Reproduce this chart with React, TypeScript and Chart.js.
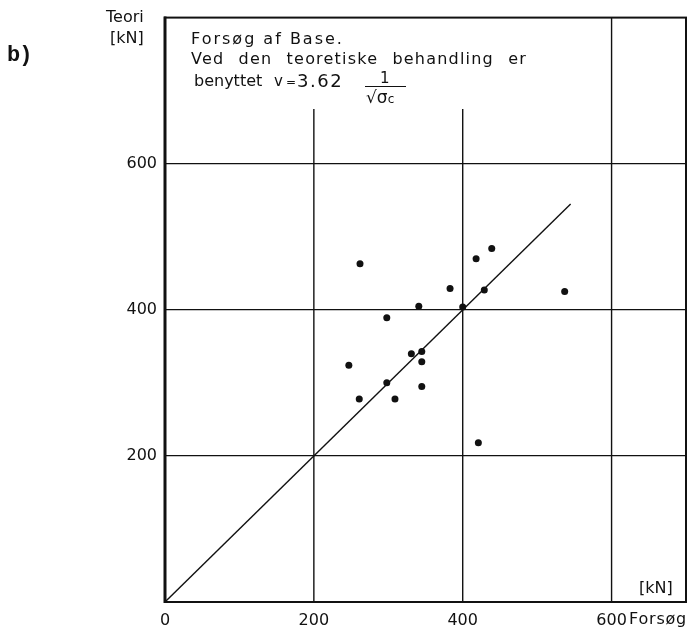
import React, { useEffect, useRef } from "react";
import { Chart, registerables } from "chart.js";

Chart.register(...registerables);

// ---- data ----
const forsoeg: number[] = [262, 418, 439, 383, 429, 537, 341, 400, 298, 331, 345, 345, 247, 298, 345, 261, 309, 421];
const teori: number[] = [463, 470, 484, 429, 427, 425, 405, 404, 389, 340, 343, 329, 324, 300, 295, 278, 278, 218];

const diagonalX: number[] = [0, 545];
const diagonalY: number[] = [0, 545];

const gridX: number[] = [200, 400, 600];
const gridTop: number[] = [675, 675, 800];

const xTicksShown: number[] = [0, 200, 400, 600];
const yTicksShown: number[] = [200, 400, 600];

const X_MAX = 700;
const Y_MAX = 800;

const DEJAVU = "'DejaVu Sans', sans-serif";
const MONO = "'Liberation Mono', monospace";

type LabelProps = {
  x: number;
  baseline: number;
  size: number;
  family?: string;
  ratio?: number;
  style?: React.CSSProperties;
  children: React.ReactNode;
};

function Label({ x, baseline, size, family = DEJAVU, ratio = 0.846, style, children }: LabelProps) {
  return (
    <div
      style={{
        position: "absolute",
        left: x,
        top: baseline - ratio * size,
        fontFamily: family,
        fontSize: size,
        lineHeight: `${size}px`,
        whiteSpace: "nowrap",
        color: "#111",
        ...style,
      }}
    >
      {children}
    </div>
  );
}

const framePlugin = {
  id: "frame",
  afterDraw(chart: any) {
    const { ctx, chartArea } = chart;
    const { left, right, top, bottom } = chartArea;
    ctx.save();
    ctx.strokeStyle = "#111";
    ctx.lineWidth = 2;
    ctx.strokeRect(left, top, right - left, bottom - top);
    ctx.lineWidth = 3;
    ctx.beginPath();
    ctx.moveTo(left, top - 1);
    ctx.lineTo(left, bottom + 1);
    ctx.stroke();
    ctx.restore();
  },
};

export default function App() {
  const canvasRef = useRef<HTMLCanvasElement | null>(null);

  useEffect(() => {
    if (!canvasRef.current) return;
    const points = forsoeg.map((x, i) => ({ x, y: teori[i] }));
    const lineStyle = {
      showLine: true,
      pointRadius: 0,
      borderColor: "#111",
      borderWidth: 1.4,
      fill: false,
    };
    const gridDatasets = gridX.map((gx, i) => ({
      ...lineStyle,
      label: `grid${gx}`,
      data: [
        { x: gx, y: 0 },
        { x: gx, y: gridTop[i] },
      ],
    }));
    const chart = new Chart(canvasRef.current, {
      type: "scatter",
      data: {
        datasets: [
          ...gridDatasets,
          {
            ...lineStyle,
            label: "Teori = Forsøg",
            data: diagonalX.map((x, i) => ({ x, y: diagonalY[i] })),
          },
          {
            label: "Forsøg af Base",
            data: points,
            pointRadius: 3.5,
            pointBackgroundColor: "#111",
            pointBorderWidth: 0,
            showLine: false,
          },
        ],
      },
      options: {
        animation: false,
        responsive: false,
        devicePixelRatio: 1,
        layout: { padding: { left: 0, top: 7, right: 13, bottom: 0 } },
        plugins: {
          legend: { display: false },
          tooltip: { enabled: false },
        },
        scales: {
          x: {
            type: "linear",
            min: 0,
            max: X_MAX,
            afterFit: (s: any) => {
              s.height = 29;
            },
            afterBuildTicks: (s: any) => {
              s.ticks = xTicksShown.map((v) => ({ value: v }));
            },
            grid: { display: false, drawTicks: false },
            border: { display: false },
            ticks: {
              padding: 9,
              color: "#111",
              font: { family: "DejaVu Sans", size: 16 },
              callback: (v: any) => String(v),
            },
          },
          y: {
            type: "linear",
            min: 0,
            max: Y_MAX,
            afterFit: (s: any) => {
              s.width = 165;
            },
            afterBuildTicks: (s: any) => {
              s.ticks = yTicksShown.map((v) => ({ value: v }));
            },
            grid: { color: "#111", lineWidth: 1.3, drawTicks: false },
            border: { display: false },
            ticks: {
              padding: 8,
              color: "#111",
              font: { family: "DejaVu Sans", size: 16 },
              callback: (v: any) => String(v),
            },
          },
        },
      },
      plugins: [framePlugin],
    } as any);
    return () => chart.destroy();
  }, []);

  return (
    <div style={{ position: "absolute", left: 0, top: 0, width: 699, height: 631, background: "#fff" }}>
      <canvas ref={canvasRef} width={699} height={631} style={{ position: "absolute", left: 0, top: 0, width: 699, height: 631 }} />
      <Label x={7} baseline={62} size={22} family={MONO} ratio={0.7665} style={{ letterSpacing: -1, fontWeight: "bold" }}>
        b)
      </Label>
      <Label x={106} baseline={23} size={16}>Teori</Label>
      <Label x={110} baseline={44} size={16}>[kN]</Label>
      <Label x={191} baseline={45} size={16} style={{ letterSpacing: 2 }}>
        Forsøg af Base.
      </Label>
      <Label x={191} baseline={65} size={16} style={{ letterSpacing: 1.2, wordSpacing: 8 }}>
        Ved den teoretiske behandling er
      </Label>
      <Label x={194} baseline={87} size={16} style={{ letterSpacing: 0 }}>
        benyttet
      </Label>
      <Label x={274} baseline={87} size={15}>
        v<span style={{ fontSize: 12, margin: "0 3px" }}>=</span>
      </Label>
      <Label x={297} baseline={87} size={18} style={{ letterSpacing: 1.5 }}>
        3.62
      </Label>
      <Label x={380} baseline={84} size={15}>1</Label>
      <div style={{ position: "absolute", left: 365, top: 86, width: 41, height: 1.3, background: "#111" }} />
      <Label x={366} baseline={103} size={17}>
        √<span style={{ borderTop: "1.3px solid #111", paddingTop: 0 }}>
          σ<span style={{ fontSize: 12 }}>c</span>
        </span>
      </Label>
      <Label x={639} baseline={594} size={16}>[kN]</Label>
      <Label x={629} baseline={625} size={16} style={{ letterSpacing: 0.8 }}>
        Forsøg
      </Label>
    </div>
  );
}
